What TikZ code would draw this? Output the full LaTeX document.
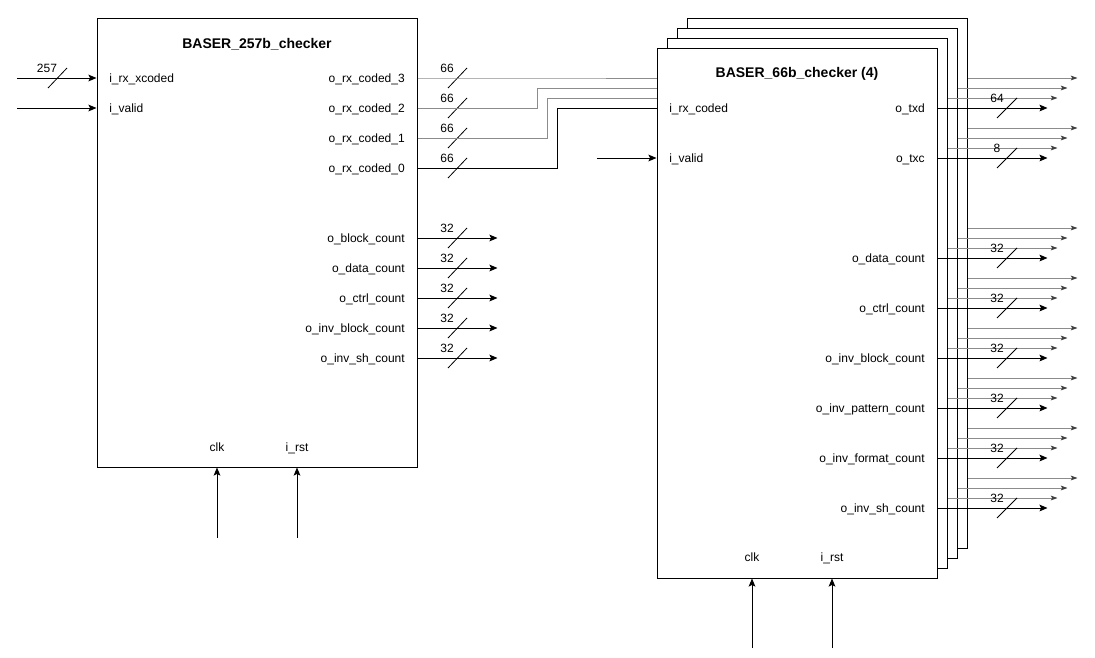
\documentclass[tikz,border=0pt]{standalone}
\usepackage{fontspec}
\setmainfont{Liberation Sans}
\usetikzlibrary{arrows.meta,positioning}

\begin{document}
\begin{tikzpicture}[
          x=0.75pt, y=-0.75pt,
          every node/.style={font=\fontsize{9}{11}\selectfont, inner sep=0pt, text height=6.5pt, text depth=0pt},
          block/.style={draw, fill=white, line width=0.75pt, minimum width=210pt, minimum height=397.5pt},
          ttl/.style={font=\fontsize{10.5}{12}\selectfont\bfseries},
          pin/.style={anchor=west},
          pout/.style={anchor=east},
          sig/.style={line width=0.75pt, -{Stealth[length=6pt, width=5pt, inset=1.2pt]}},
          wire/.style={line width=0.75pt},
          ghost/.style={line width=0.75pt, draw=black!45, -{Stealth[length=5pt, width=3.5pt, inset=1pt, color=black!75]}},
          ghostwire/.style={line width=0.75pt, draw=black!45},
          busw/.style={line width=0.6pt}
      ]
        \useasboundingbox (0,0) rectangle (1095,657);

        % BASER_257b_checker
        \node[block, minimum width=240pt, minimum height=336.75pt] (chk257) at (257,242.5) {};
        \node[ttl] at (257,44) {BASER\_257b\_checker};
        \node[pin] (p_xcoded) at (109,78) {i\_rx\_xcoded};
        \node[pin] (p_valid) at (109,108) {i\_valid};
        \coordinate (xin) at (17,78);
        \coordinate (vin) at (17,108);
        \draw[sig] (xin) -- (xin -| chk257.west);
        \draw[sig] (vin) -- (vin -| chk257.west);
        \draw[busw] (48,88) -- (67,68);
        \node at (47,68) {257};

        \foreach \n [count=\i from 0] in {3,2,1,0} {
          \node[pout] (p_rx\n) at (405,78+30*\i) {o\_rx\_coded\_\n};
          \draw[busw] (448,88+30*\i) -- (467,68+30*\i);
          \node at (447,68+30*\i) {66};
        }

        \foreach \lbl [count=\i from 0] in {block,data,ctrl,inv\_block,inv\_sh} {
          \node[pout] (p_cnt\i) at (405,238+30*\i) {o\_\lbl\_count};
          \draw[sig] (chk257.east |- p_cnt\i) -- ++(80,0);
          \draw[busw] (448,248+30*\i) -- (467,228+30*\i);
          \node at (447,228+30*\i) {32};
        }

        \node (clk1) at (217,447) {clk};
        \node (rst1) at (297,447) {i\_rst};
        \coordinate (clk1in) at (217,538);
        \coordinate (rst1in) at (297,538);
        \draw[sig] (clk1in) -- (clk1in |- chk257.south);
        \draw[sig] (rst1in) -- (rst1in |- chk257.south);

        % stacked copies of BASER_66b_checker
        \foreach \k in {3,2,1} {
          \node[block] (cp\k) at (797+10*\k,313-10*\k) {};
          \draw[ghostwire] (chk257.east |- p_rx\k) -| (557-10*\k,108-10*\k) -- (cp\k.west |- 0,108-10*\k);
          \foreach \y in {108,158,258,308,358,408,458,508}
            \draw[ghost] (cp\k.east |- 0,\y-10*\k) -- ++(110,0);
        }

        % front copy
        \node[block] (chk66) at (797,313) {};
        \node[ttl] at (797,73) {BASER\_66b\_checker (4)};
        \node[pin] (q_coded) at (669,108) {i\_rx\_coded};
        \node[pin] (q_valid) at (669,158) {i\_valid};
        \draw[wire] (chk257.east |- p_rx0) -| (557,108) -- (q_coded -| chk66.west);
        \coordinate (vin2) at (597,158);
        \draw[sig] (vin2) -- (vin2 -| chk66.west);

        \foreach \lbl/\y/\w [count=\i] in {o\_txd/108/64, o\_txc/158/8, o\_data\_count/258/32, o\_ctrl\_count/308/32, o\_inv\_block\_count/358/32, o\_inv\_pattern\_count/408/32, o\_inv\_format\_count/458/32, o\_inv\_sh\_count/508/32} {
          \node[pout] (q_out\i) at (925,\y) {\lbl};
          \draw[sig] (chk66.east |- q_out\i) -- ++(110,0);
          \draw[busw] (997,\y+10) -- (1017,\y-10);
          \node at (997,\y-10) {\w};
        }

        \node (clk2) at (752,557) {clk};
        \node (rst2) at (832,557) {i\_rst};
        \coordinate (clk2in) at (752,648);
        \coordinate (rst2in) at (832,648);
        \draw[sig] (clk2in) -- (clk2in |- chk66.south);
        \draw[sig] (rst2in) -- (rst2in |- chk66.south);
      \end{tikzpicture}
\end{document}
